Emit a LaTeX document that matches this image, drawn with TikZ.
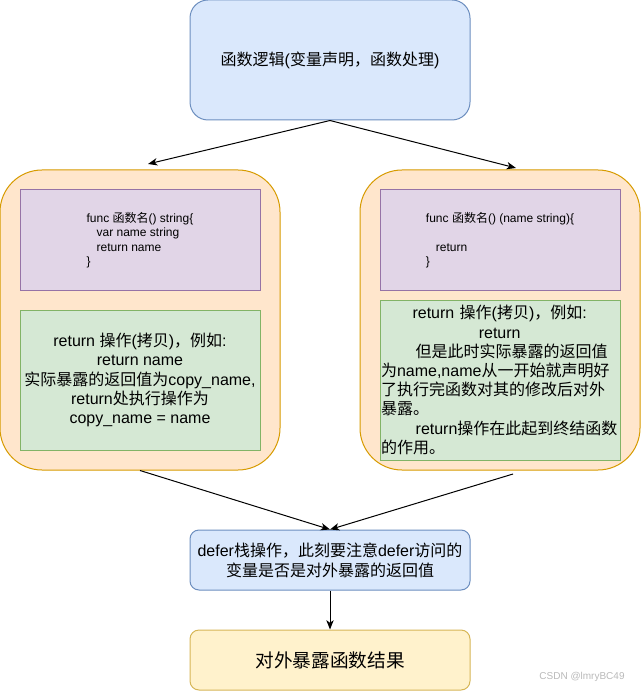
\documentclass[tikz,border=0pt]{standalone}
\usepackage{fontspec}
\setmainfont{Liberation Sans}
\newfontfamily\cjk{Noto Sans CJK SC}
\newcommand\zh[1]{{\cjk #1}}
\usetikzlibrary{arrows.meta}
\definecolor{bluefill}{HTML}{DAE8FC}\definecolor{bluedraw}{HTML}{6C8EBF}
\definecolor{orfill}{HTML}{FFE6CC}\definecolor{ordraw}{HTML}{D79B00}
\definecolor{pufill}{HTML}{E1D5E7}\definecolor{pudraw}{HTML}{9673A6}
\definecolor{grfill}{HTML}{D5E8D4}\definecolor{grdraw}{HTML}{82B366}
\definecolor{yefill}{HTML}{FFF2CC}\definecolor{yedraw}{HTML}{D6B656}
\tikzset{
  box/.style={draw, line width=0.75pt, inner sep=0pt, text=black},
  bluebox/.style={box, fill=bluefill, draw=bluedraw},
  orbox/.style={box, fill=orfill, draw=ordraw, minimum width=210pt, minimum height=225pt, rounded corners=31.5pt},
  pubox/.style={box, fill=pufill, draw=pudraw, minimum width=180pt, minimum height=75pt},
  grbox/.style={box, fill=grfill, draw=grdraw, minimum width=180pt},
  yebox/.style={box, fill=yefill, draw=yedraw},
  txt/.style={font=\fontsize{12pt}{14.4pt}\selectfont, inner sep=0pt},
  small/.style={font=\fontsize{9pt}{10.9pt}\selectfont, inner sep=0pt, align=left},
  arr/.style={-{Stealth[length=7pt,width=5.5pt,inset=2pt]}, line width=0.75pt, black},
}
\begin{document}
\begin{tikzpicture}[x=0.75pt,y=-0.75pt]
\useasboundingbox (0,0) rectangle (641,691);
% top
\node[bluebox, minimum width=210pt, minimum height=90pt, rounded corners=13.5pt, txt] (top) at (330,60) {\zh{函数逻辑}(\zh{变量声明，函数处理})};
% big boxes
\node[orbox] (lbig) at (140,320) {};
\node[orbox] (rbig) at (500,320) {};
% purple
\node[pubox] (lpu) at (140,240) {};
\node[small] (lputxt) at (140,240) {func \zh{函数名}() string\{\\\hspace*{7.5pt}var name string\\\hspace*{7.5pt}return name\\\}};
\node[pubox] (rpu) at (500,240) {};
\node[small] (rputxt) at (500,240) {func \zh{函数名}() (name string)\{\\[10.9pt]\hspace*{7.5pt}return\\\}};
% green
\node[grbox, minimum height=105pt] (lgr) at (140,380) {};
\node[txt, align=center] (lgrtxt) at (140,380) {return \zh{操作}(\zh{拷贝})\zh{，例如}:\\return name\\\zh{实际暴露的返回值为}copy\_name,\\return\zh{处执行操作为}\\copy\_name = name};
\node[grbox, minimum height=120pt] (rgr) at (500,380) {};
\node[txt, align=left, text width=180pt] (rgrtxt) at (501,380) {\makebox[178pt][c]{return \zh{操作}(\zh{拷贝})\zh{，例如}:}\\\makebox[178pt][c]{return}\\\hspace*{26pt}\zh{但是此时实际暴露的返回值}\\\zh{为}name,name\zh{从一开始就声明好}\\\zh{了执行完函数对其的修改后对外}\\\zh{暴露。}\\\hspace*{26pt}return\zh{操作在此起到终结函数}\\\zh{的作用。}};
% bottom
\node[bluebox, minimum width=210pt, minimum height=45pt, rounded corners=6.75pt, txt, align=center] (defer) at (330,560) {defer\zh{栈操作，此刻要注意}defer\zh{访问的}\\[0.6pt]\zh{变量是否是对外暴露的返回值}};
\node[yebox, minimum width=210pt, minimum height=45pt, rounded corners=6.75pt, font=\fontsize{14pt}{16pt}\selectfont] (res) at (330,660) {\zh{对外暴露函数结果}};
% coordinates
\coordinate (tl) at (148,164);
\coordinate (tr) at (516,168);
\coordinate (rs) at (513,474);
% arrows
\draw[arr] (top.south) -- (tl);
\draw[arr] (top.south) -- (tr);
\draw[arr] (lbig.south) -- (defer.north);
\draw[arr] (rs) -- (defer.north);
\draw[arr] (defer.south) -- (res.north);
% watermark
\node[font=\fontsize{7.5pt}{9pt}\selectfont, text=gray!55, inner sep=0pt] (wm) at (582,677) {CSDN @lmryBC49};
\end{tikzpicture}
\end{document}
